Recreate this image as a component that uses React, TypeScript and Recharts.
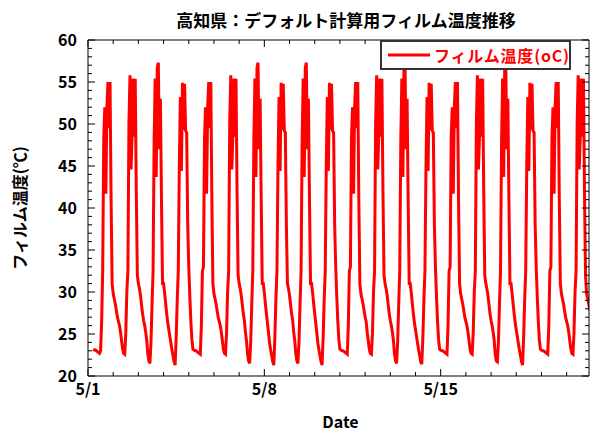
import React from 'react';
import { LineChart, Line, XAxis, YAxis, Legend } from 'recharts';

// hourly film temperature (°C), one array per day block
const day01 = [null, null, null, null, null, 23.2, 23.1, 23.1, 23.0, 22.9, 22.8, 22.7, 23.0, 26.5, 32.6, 48.3, 52.0, 41.7, 52.0, 55.0, 49.5, 55.0, 41.0, 31.0];
const day02 = [29.8, 29.2, 28.6, 27.8, 27.0, 26.5, 26.0, 25.2, 24.2, 23.2, 22.7, 22.6, 25.1, 30.0, 32.5, 50.0, 55.8, 44.6, 48.5, 55.4, 48.5, 55.4, 42.0, 32.0];
const day03 = [31.0, 30.4, 29.6, 28.5, 27.4, 26.6, 26.0, 25.2, 24.2, 22.6, 21.8, 21.5, 24.0, 28.5, 32.5, 48.0, 55.4, 43.7, 56.7, 57.3, 47.0, 53.0, 41.0, 31.0];
const day04 = [31.0, 29.9, 28.6, 27.4, 26.3, 25.5, 24.7, 23.9, 23.1, 22.4, 21.7, 21.3, 24.5, 29.0, 32.5, 45.0, 53.2, 44.4, 54.9, 49.3, 54.8, 49.2, 49.0, 38.0];
const day05 = [33.0, 29.5, 26.5, 24.3, 23.2, 23.1, 23.0, 23.0, 22.9, 22.8, 22.7, 22.6, 26.0, 32.5, 33.0, 48.3, 52.0, 41.7, 52.0, 55.0, 49.5, 55.0, 41.0, 31.0];
const day06 = [29.8, 29.2, 28.6, 27.8, 27.0, 26.5, 26.0, 25.2, 24.2, 23.2, 22.7, 22.6, 25.1, 30.0, 32.5, 50.0, 55.8, 44.6, 48.5, 55.4, 48.5, 55.4, 42.0, 32.0];
const day07 = [31.0, 30.4, 29.6, 28.5, 27.4, 26.6, 25.2, 24.2, 22.6, 21.8, 21.5, 24.0, 28.5, 32.5, 48.0, 55.4, 43.7, 56.7, 57.3, 47.0, 53.0, 41.0, 31.0];
const day08 = [31.0, 29.9, 28.6, 27.4, 26.3, 25.1, 23.9, 23.1, 22.4, 21.7, 21.3, 24.5, 29.0, 32.5, 45.0, 53.2, 44.4, 54.9, 49.3, 54.8, 49.2, 49.0, 38.0];
const day09 = [31.0, 30.4, 29.6, 28.5, 27.4, 26.6, 25.2, 24.2, 22.6, 21.8, 21.5, 24.0, 28.5, 32.5, 48.0, 55.4, 43.7, 56.7, 57.3, 47.0, 53.0, 41.0, 31.0];
const day10 = [31.0, 29.9, 28.6, 27.4, 26.3, 25.1, 23.9, 23.1, 22.4, 21.7, 21.3, 24.5, 29.0, 32.5, 45.0, 53.2, 44.4, 54.9, 49.3, 54.8, 49.2, 49.0, 38.0];
const day11 = [33.0, 29.5, 26.5, 24.3, 23.2, 23.1, 23.0, 23.0, 22.9, 22.8, 22.7, 22.6, 26.0, 32.5, 33.0, 48.3, 52.0, 41.7, 52.0, 55.0, 49.5, 55.0, 41.0, 31.0];
const day12 = [29.8, 29.2, 28.6, 27.8, 27.0, 26.5, 25.2, 24.2, 23.2, 22.7, 22.6, 25.1, 30.0, 32.5, 50.0, 55.8, 44.6, 48.5, 55.4, 48.5, 55.4, 42.0, 32.0];
const day13 = [31.0, 30.4, 29.6, 28.5, 27.4, 26.6, 26.0, 25.2, 24.2, 22.6, 21.8, 21.5, 24.0, 28.5, 32.5, 48.0, 55.4, 43.7, 56.7, 57.3, 47.0, 53.0, 41.0, 31.0];
const day14 = [31.0, 29.9, 28.6, 27.4, 26.3, 25.5, 24.7, 23.9, 23.1, 22.4, 21.7, 21.4, 24.5, 29.0, 32.5, 45.0, 53.2, 44.4, 54.9, 49.3, 54.8, 49.2, 49.0, 38.0];
const day15 = [33.0, 29.5, 26.5, 24.3, 23.2, 23.1, 23.0, 23.0, 22.9, 22.8, 22.7, 22.6, 26.0, 32.5, 33.0, 48.3, 52.0, 41.7, 52.0, 55.0, 49.5, 55.0, 41.0, 31.0];
const day16 = [29.8, 29.2, 28.6, 27.8, 27.0, 26.5, 26.0, 25.2, 24.2, 23.2, 22.7, 22.6, 25.1, 30.0, 32.5, 50.0, 55.8, 44.6, 48.5, 55.4, 48.5, 55.4, 42.0, 32.0];
const day17 = [31.0, 30.4, 29.6, 28.5, 27.4, 26.6, 26.0, 25.2, 24.2, 22.6, 21.8, 21.7, 24.0, 28.5, 32.5, 48.0, 55.4, 43.7, 56.7, 57.3, 47.0, 53.0, 41.0, 31.0];
const day18 = [31.0, 29.9, 28.6, 27.4, 26.3, 25.5, 24.7, 23.9, 23.1, 22.4, 21.7, 21.3, 24.5, 29.0, 32.5, 45.0, 53.2, 44.4, 54.9, 49.3, 54.8, 49.2, 49.0, 38.0];
const day19 = [33.0, 29.5, 26.5, 24.3, 23.2, 23.1, 23.0, 23.0, 22.9, 22.8, 22.7, 22.6, 26.0, 32.5, 33.0, 48.3, 52.0, 41.7, 52.0, 55.0, 49.5, 55.0, 41.0, 31.0];
const day20 = [29.8, 29.2, 28.6, 27.8, 27.0, 26.5, 26.0, 25.2, 24.2, 23.2, 22.7, 22.6, 25.1, 30.0, 32.5, 50.0, 55.8, 44.6, 48.5, 55.4, 48.5, 55.4, 42.0, 32.0];
const day21 = [29.8, 29.2, 28.6, 27.8];

// axis ticks (hours from 5/1 0:00) and labels
const dayTicks = [0, 24, 48, 72, 96, 120, 144, 168, 192, 216, 240, 264, 288, 312, 336, 360, 384, 408, 432, 456];
const labelTicks = [0, 168, 336];
const labelTexts = ['5/1', '5/8', '5/15'];
const xDomainEnd = 477.3;

const yTicks = [20, 21, 22, 23, 24, 25, 26, 27, 28, 29, 30, 31, 32, 33, 34, 35, 36, 37, 38, 39, 40, 41, 42, 43, 44, 45, 46, 47, 48, 49, 50, 51, 52, 53, 54, 55, 56, 57, 58, 59, 60];
const yLabelTicks = [20, 25, 30, 35, 40, 45, 50, 55, 60];

const title = '高知県：デフォルト計算用フィルム温度推移';
const seriesName = 'フィルム温度(oC)';
const yTitle = 'フィルム温度(℃)';
const xTitle = 'Date';

const days = [day01, day02, day03, day04, day05, day06, day07, day08, day09, day10, day11, day12, day13, day14, day15, day16, day17, day18, day19, day20, day21];
const data = days.flat().map((v, i) => ({ t: i, v }));

const FONT = '"Noto Sans CJK JP", "Noto Sans", sans-serif';
const RED = '#ff0000';

const BottomTick = (props: any) => {
  const { x, y, payload } = props;
  const idx = labelTicks.indexOf(payload.value);
  const len = idx >= 0 ? 7 : 4;
  return (
    <g>
      <line x1={x} y1={y} x2={x} y2={y - len} stroke="#000" strokeWidth={1} />
      {idx >= 0 && (
        <text x={x} y={y + 19} textAnchor="middle" fontSize={16} fontWeight="bold" fontFamily={FONT} fill="#000">
          {labelTexts[idx]}
        </text>
      )}
    </g>
  );
};

const TopTick = (props: any) => {
  const { x, y, payload } = props;
  const len = labelTicks.indexOf(payload.value) >= 0 ? 7 : 4;
  return <line x1={x} y1={y} x2={x} y2={y + len} stroke="#000" strokeWidth={1} />;
};

const LeftTick = (props: any) => {
  const { x, y, payload } = props;
  const major = yLabelTicks.indexOf(payload.value) >= 0;
  return (
    <g>
      <line x1={x} y1={y} x2={x + (major ? 7 : 4)} y2={y} stroke="#000" strokeWidth={1} />
      {major && (
        <text x={x - 11} y={y + 6} textAnchor="end" fontSize={16} fontWeight="bold" fontFamily={FONT} fill="#000">
          {payload.value}
        </text>
      )}
    </g>
  );
};

const RightTick = (props: any) => {
  const { x, y, payload } = props;
  const major = yLabelTicks.indexOf(payload.value) >= 0;
  return <line x1={x} y1={y} x2={x - (major ? 7 : 4)} y2={y} stroke="#000" strokeWidth={1} />;
};

const LegendBox = (props: any) => {
  const item = props.payload && props.payload[0];
  return (
    <div
      style={{
        width: 191,
        height: 30,
        boxSizing: 'border-box',
        border: '2px solid #333',
        background: '#fff',
        display: 'flex',
        alignItems: 'center',
        fontFamily: FONT,
        fontWeight: 'bold',
        fontSize: 16,
        letterSpacing: 0.8,
        color: RED,
        whiteSpace: 'nowrap',
      }}
    >
      <svg width={52} height={10} style={{ display: 'block', flex: 'none' }}>
        <line x1={6} y1={5} x2={48} y2={5} stroke={RED} strokeWidth={3} />
      </svg>
      <span>{item ? item.value : seriesName}</span>
    </div>
  );
};

export default function App() {
  return (
    <div style={{ position: 'absolute', left: 0, top: 0, width: 592, height: 432, background: '#fff' }}>
      <div
        style={{
          position: 'absolute',
          left: 346,
          top: 9,
          transform: 'translateX(-50%)',
          whiteSpace: 'nowrap',
          fontFamily: FONT,
          fontWeight: 'bold',
          fontSize: 17,
          lineHeight: '22px',
          color: '#000',
          zIndex: 2,
        }}
      >
        {title}
      </div>
      <LineChart width={592} height={432} data={data} margin={{ top: 39, right: 2, bottom: 0, left: 0 }}>
        <XAxis
          xAxisId="bottom"
          dataKey="t"
          type="number"
          domain={[0, xDomainEnd]}
          allowDataOverflow
          ticks={dayTicks}
          interval={0}
          tickSize={0}
          tickMargin={0}
          tickLine={false}
          tick={BottomTick}
          height={56}
          axisLine={{ stroke: '#000', strokeWidth: 1 }}
          label={{ value: xTitle, position: 'center', dy: 18, dx: 2, fontSize: 16, fontWeight: 'bold', fontFamily: FONT, fill: '#000' }}
        />
        <XAxis
          xAxisId="top"
          orientation="top"
          dataKey="t"
          type="number"
          domain={[0, xDomainEnd]}
          allowDataOverflow
          ticks={dayTicks}
          interval={0}
          tickSize={0}
          tickMargin={0}
          tickLine={false}
          tick={TopTick}
          height={1}
          axisLine={{ stroke: '#000', strokeWidth: 1 }}
        />
        <YAxis
          yAxisId="left"
          type="number"
          domain={[20, 60]}
          allowDataOverflow
          ticks={yTicks}
          interval={0}
          tickSize={0}
          tickMargin={0}
          tickLine={false}
          tick={LeftTick}
          width={88}
          axisLine={{ stroke: '#000', strokeWidth: 1 }}
          label={{ value: yTitle, angle: -90, position: 'center', dx: -24, fontSize: 16, fontWeight: 'bold', fontFamily: FONT, fill: '#000' }}
        />
        <YAxis
          yAxisId="right"
          orientation="right"
          type="number"
          domain={[20, 60]}
          allowDataOverflow
          ticks={yTicks}
          interval={0}
          tickSize={0}
          tickMargin={0}
          tickLine={false}
          tick={RightTick}
          width={1}
          axisLine={{ stroke: '#000', strokeWidth: 1 }}
        />
        <Legend
          layout="horizontal"
          verticalAlign="middle"
          align="center"
          wrapperStyle={{ left: 380, top: 40, width: 191, height: 30 }}
          content={LegendBox}
        />
        <Line
          xAxisId="bottom"
          yAxisId="left"
          dataKey="v"
          name={seriesName}
          stroke={RED}
          strokeWidth={3}
          dot={false}
          activeDot={false}
          isAnimationActive={false}
        />
      </LineChart>
    </div>
  );
}
